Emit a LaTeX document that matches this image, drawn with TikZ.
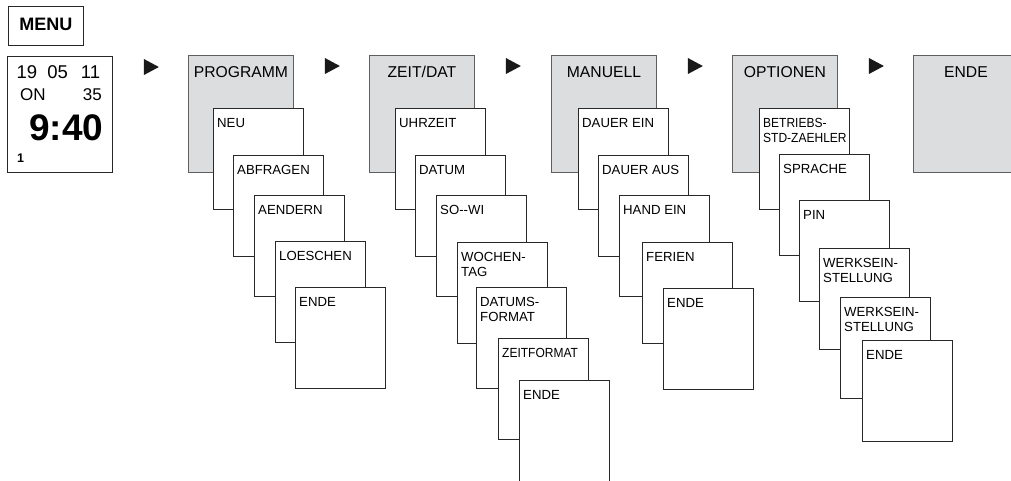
\documentclass[tikz,border=0pt]{standalone}
\usepackage{fontspec}
\setmainfont{Liberation Sans}
\newfontfamily\narrowfont[FakeStretch=0.91]{Liberation Sans}
\definecolor{menugray}{RGB}{220,221,223}
\definecolor{graybord}{RGB}{95,95,95}
\definecolor{darkbord}{RGB}{40,40,40}
\usepackage{tikz}

\begin{document}
\begin{tikzpicture}[x=1pt, y=-1pt,
  menubox/.style={rectangle, draw=darkbord, line width=0.9pt, minimum width=75pt, minimum height=39pt, inner sep=0pt, anchor=north west, text depth=4pt, font=\bfseries\fontsize{18}{20}\selectfont},
  lcdbox/.style={rectangle, draw=darkbord, fill=white, line width=0.9pt, minimum width=105pt, minimum height=116pt, inner sep=0pt, anchor=north west},
  lcd/.style={inner sep=0pt},
  head/.style={rectangle, draw=graybord, fill=menugray, line width=0.9pt, minimum width=105pt, minimum height=117pt, inner sep=0pt, anchor=north west},
  sub/.style={rectangle, draw=darkbord, fill=white, line width=0.9pt, minimum width=90pt, minimum height=101pt, inner sep=0pt, anchor=north west},
  headtxt/.style={anchor=north, inner sep=0pt, yshift=-11pt, font=\fontsize{15.7}{18}\selectfont},
  subtxt/.style={anchor=north west, inner sep=0pt, xshift=4pt, yshift=-10pt, align=left, font=\fontsize{13.2}{15.5}\selectfont},
  subnarrow/.style={subtxt, font=\narrowfont\fontsize{13.2}{15.5}\selectfont},
  tri/.style={fill=black!90}
]
\useasboundingbox (0,0) rectangle (1011,480);
\clip (0,0) rectangle (1011,480);

% menu and display
\node[menubox] (menu) at (8,6) {MENU};
\node[lcdbox] (disp) at (7,56) {};
\node[lcd, anchor=base west, font=\fontsize{18.5}{20}\selectfont] (date) at (16.5,78) {19\hspace{10pt}05\hspace{13pt}11};
\node[lcd, anchor=base west, font=\fontsize{17}{20}\selectfont] (state) at (20,100) {ON};
\node[lcd, anchor=base east, font=\fontsize{17}{20}\selectfont] (minutes) at (102,100) {35};
\node[lcd, anchor=base east, font=\bfseries\fontsize{37}{40}\selectfont] (clock) at (103.5,140) {9:40};
\node[lcd, anchor=base west, font=\bfseries\fontsize{12.5}{14}\selectfont] (prognr) at (16.8,162) {1};

% main menu
\node[head] (prog) at (188,55) {};
\node[head] (zeit) at (369,55) {};
\node[head] (manu) at (551,55) {};
\node[head] (opt) at (732,55) {};
\node[head] (ende) at (913,55) {};
\node[headtxt] (prog-t) at (prog.north) {PROGRAMM};
\node[headtxt] (zeit-t) at (zeit.north) {ZEIT/DAT};
\node[headtxt] (manu-t) at (manu.north) {MANUELL};
\node[headtxt] (opt-t) at (opt.north) {OPTIONEN};
\node[headtxt] (ende-t) at (ende.north) {ENDE};

\fill[tri] ([xshift=31pt]disp.north east) ++(0,3) -- ++(15,8) -- ++(-15,8) -- cycle;
\fill[tri] ([xshift=31pt]prog.north east) ++(0,3) -- ++(15,8) -- ++(-15,8) -- cycle;
\fill[tri] ([xshift=31pt]zeit.north east) ++(0,3) -- ++(15,8) -- ++(-15,8) -- cycle;
\fill[tri] ([xshift=31pt]manu.north east) ++(0,3) -- ++(15,8) -- ++(-15,8) -- cycle;
\fill[tri] ([xshift=31pt]opt.north east) ++(0,3) -- ++(15,8) -- ++(-15,8) -- cycle;

% PROGRAMM
\node[sub] (neu) at (213,108) {};
\node[subtxt] (neu-t) at (neu.north west) {NEU};
\node[sub] (abfr) at (233,155) {};
\node[subtxt] (abfr-t) at (abfr.north west) {ABFRAGEN};
\node[sub] (aend) at (254,195) {};
\node[subtxt] (aend-t) at (aend.north west) {AENDERN};
\node[sub] (loesch) at (275,241) {};
\node[subtxt] (loesch-t) at (loesch.north west) {LOESCHEN};
\node[sub] (progende) at (295,287) {};
\node[subtxt] (progende-t) at (progende.north west) {ENDE};

% ZEIT/DAT
\node[sub] (uhr) at (395,108) {};
\node[subtxt] (uhr-t) at (uhr.north west) {UHRZEIT};
\node[sub] (datum) at (415,155) {};
\node[subtxt] (datum-t) at (datum.north west) {DATUM};
\node[sub] (sowi) at (436,195) {};
\node[subtxt] (sowi-t) at (sowi.north west) {SO-{}-WI};
\node[sub] (wotag) at (457,242) {};
\node[subtxt] (wotag-t) at (wotag.north west) {WOCHEN-\\TAG};
\node[sub] (dfmt) at (476,287) {};
\node[subtxt] (dfmt-t) at (dfmt.north west) {DATUMS-\\FORMAT};
\node[sub] (zfmt) at (498,338) {};
\node[subnarrow] (zfmt-t) at (zfmt.north west) {ZEITFORMAT};
\node[sub] (zeitende) at (519,380) {};
\node[subtxt] (zeitende-t) at (zeitende.north west) {ENDE};

% MANUELL
\node[sub] (dein) at (578,108) {};
\node[subtxt] (dein-t) at (dein.north west) {DAUER EIN};
\node[sub] (daus) at (598,155) {};
\node[subtxt] (daus-t) at (daus.north west) {DAUER AUS};
\node[sub] (hein) at (619,195) {};
\node[subtxt] (hein-t) at (hein.north west) {HAND EIN};
\node[sub] (ferien) at (642,242) {};
\node[subtxt] (ferien-t) at (ferien.north west) {FERIEN};
\node[sub] (manuende) at (663,288) {};
\node[subtxt] (manuende-t) at (manuende.north west) {ENDE};

% OPTIONEN
\node[sub] (bstd) at (759,108) {};
\node[subnarrow] (bstd-t) at (bstd.north west) {BETRIEBS-\\STD-ZAEHLER};
\node[sub] (sprache) at (779,154) {};
\node[subtxt] (sprache-t) at (sprache.north west) {SPRACHE};
\node[sub] (pin) at (799,200) {};
\node[subtxt] (pin-t) at (pin.north west) {PIN};
\node[sub] (werk1) at (819,248) {};
\node[subtxt] (werk1-t) at (werk1.north west) {WERKSEIN-\\STELLUNG};
\node[sub] (werk2) at (840,297) {};
\node[subtxt] (werk2-t) at (werk2.north west) {WERKSEIN-\\STELLUNG};
\node[sub] (optende) at (862,340) {};
\node[subtxt] (optende-t) at (optende.north west) {ENDE};

\end{tikzpicture}
\end{document}
